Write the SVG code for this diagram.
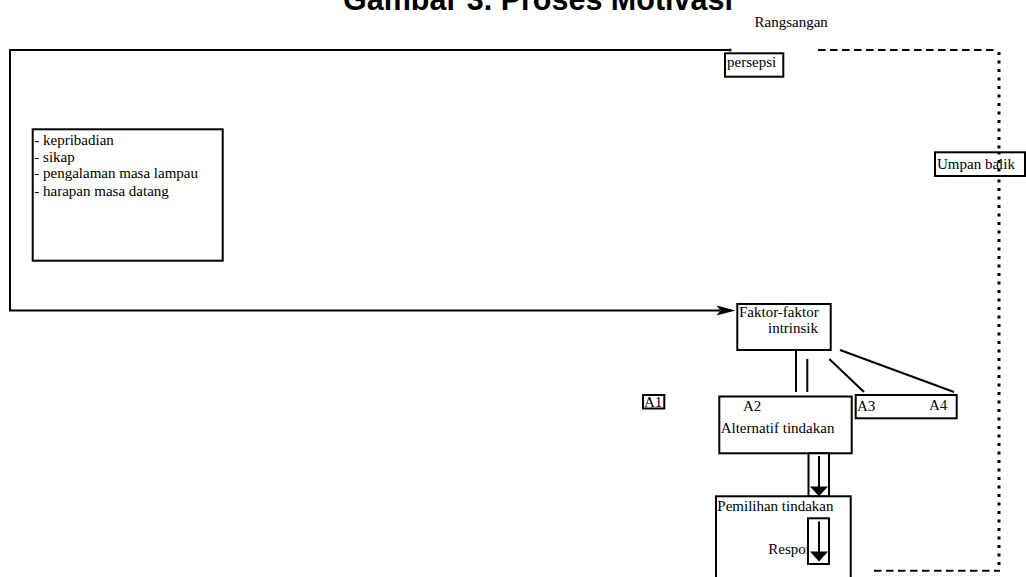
<svg xmlns="http://www.w3.org/2000/svg" width="1026" height="577" viewBox="0 0 1026 577">
  <style>
    .box { fill: #fff; stroke: #000; stroke-width: 2; }
    .ln { fill: none; stroke: #000; stroke-width: 2; }
    .dash { fill: none; stroke: #000; stroke-width: 2; stroke-dasharray: 7.5 4.5; }
    .dot { fill: none; stroke: #000; stroke-width: 3; stroke-dasharray: 3 5.5; }
    .t { font-family: "Liberation Serif", "Times New Roman", serif; font-size: 15px; fill: #000; }
    .title { font-family: "Liberation Sans", Arial, sans-serif; font-size: 30.5px; font-weight: bold; fill: #000; }
  </style>

  <rect width="1026" height="577" fill="#fff"/>

  <text class="title" x="343" y="9.5">Gambar 3. Proses Motivasi</text>
  <text class="t" x="754.5" y="27">Rangsangan</text>

  <!-- connectors -->
  <g id="connectors">
    <!-- solid frame from the stimulus, down the left side and back to the intrinsic factors -->
    <polyline class="ln" points="730,50 10,50 10,310.5 720,310.5"/>
    <circle cx="730" cy="50" r="1.6" fill="#000"/>
    <polygon points="735.5,310.5 716.5,305.5 720.5,310.5 716.5,315.5" fill="#000"/>

    <!-- feedback loop -->
    <line class="dash" x1="818" y1="50" x2="995" y2="50"/>
    <line class="dot" x1="999" y1="52" x2="999" y2="570"/>
    <line class="dash" x1="874" y1="570.7" x2="1000" y2="570.7"/>

    <!-- intrinsic factors to alternatives -->
    <line class="ln" x1="796" y1="350" x2="796" y2="392"/>
    <line class="ln" x1="807.3" y1="359" x2="807.3" y2="392"/>
    <line class="ln" x1="829.3" y1="359" x2="864" y2="392"/>
    <line class="ln" x1="840" y1="350" x2="954" y2="392"/>
  </g>

  <g id="persepsi">
    <rect class="box" x="725" y="53.3" width="58.3" height="23.4"/>
    <text class="t" x="727" y="67">persepsi</text>
  </g>

  <g id="umpan-balik">
    <rect class="box" x="935" y="152.3" width="90" height="23.7"/>
    <text class="t" x="937" y="168.5">Umpan balik</text>
  </g>
  <!-- the dotted feedback line runs over the label box -->
  <line class="dot" x1="999" y1="152" x2="999" y2="177" stroke-dashoffset="0.5"/>

  <g id="faktor-ekstrinsik">
    <rect class="box" x="32.7" y="129.3" width="190" height="131.4"/>
    <text class="t" x="34.3" y="144.5">- kepribadian</text>
    <text class="t" x="34.3" y="161.5">- sikap</text>
    <text class="t" x="34.3" y="178.3">- pengalaman masa lampau</text>
    <text class="t" x="34.3" y="195.8">- harapan masa datang</text>
  </g>

  <g id="faktor-intrinsik">
    <rect class="box" x="737.3" y="304" width="93.4" height="46"/>
    <text class="t" x="739" y="317">Faktor-faktor</text>
    <text class="t" x="768" y="333">intrinsik</text>
  </g>

  <g id="a1">
    <rect class="box" x="643" y="395" width="21.3" height="13.5"/>
    <text class="t" x="644" y="406.5">A1</text>
  </g>

  <g id="alternatif">
    <rect class="box" x="719.3" y="396.5" width="132.4" height="56.8"/>
    <text class="t" x="743" y="410.5">A2</text>
    <text class="t" x="720.7" y="433">Alternatif tindakan</text>
  </g>

  <g id="a3-a4">
    <rect class="box" x="855.7" y="395" width="101" height="23.3"/>
    <text class="t" x="857" y="410.7">A3</text>
    <text class="t" x="929" y="410.3">A4</text>
  </g>

  <g id="arrow-pilih">
    <rect class="box" x="808.5" y="453.3" width="20.5" height="43.2"/>
    <line class="ln" x1="819" y1="456" x2="819" y2="488"/>
    <polygon points="810,486.5 828,486.5 819,496.3" fill="#000"/>
  </g>

  <g id="pemilihan">
    <rect class="box" x="716" y="496.3" width="134.7" height="90"/>
    <text class="t" x="717.3" y="510.7">Pemilihan tindakan</text>
    <text class="t" x="768.3" y="554">Respon</text>
  </g>

  <g id="arrow-respon">
    <rect class="box" x="808" y="518.3" width="21" height="45.7"/>
    <line class="ln" x1="819" y1="521.5" x2="819" y2="553"/>
    <polygon points="810,551.5 828,551.5 819,561.5" fill="#000"/>
  </g>
</svg>
